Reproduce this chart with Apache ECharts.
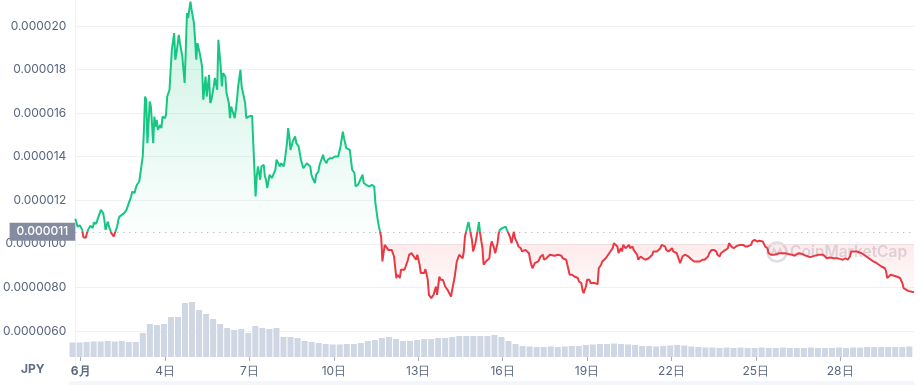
<!DOCTYPE html>
<html><head><meta charset="utf-8">
<script src="https://cdn.jsdelivr.net/npm/echarts@6/dist/echarts.min.js"></script>
<style>html,body{margin:0;padding:0;background:#fff}#c{width:921px;height:385px}</style>
</head><body><div id="c"></div>
<script>
// Price in µJPY (1e-6 JPY); time in hours since 2023-05-31 14:00
const priceHours = [
0,2,3,4,6,7,8,9,10,11,13,15,16,18,19,20,22,24,25,26,28,29,31,33,34,36,37,38,40,42,44,45,46,48,49,51,52,53,55,56,
58,59,60,61,62,63,64,65,67,68,69,70,71,73,74,75,77,78,79,81,82,83,85,86,87,89,90,92,93,94,95,96,97,99,100,102,103,104,105,107,
108,109,110,112,113,115,116,117,119,120,122,123,125,126,127,129,130,132,133,134,135,137,138,139,140,142,143,144,146,147,149,152,153,154,155,156,157,159,160,162,
163,164,165,166,167,169,170,172,173,174,176,177,179,180,182,183,184,185,187,188,189,190,192,193,194,196,197,199,200,202,203,204,206,207,209,210,211,213,214,216,
217,219,220,221,223,224,226,227,228,230,231,233,234,236,237,238,240,241,243,244,245,247,248,250,251,253,254,255,257,258,260,261,262,263,264,266,267,269,270,272,
273,274,276,277,279,280,281,283,284,286,287,289,290,291,293,294,296,297,298,300,301,303,304,306,307,308,310,311,313,314,316,317,318,320,321,323,324,326,327,328,
330,331,333,334,335,337,338,339,341,342,344,345,346,347,348,350,351,353,354,356,357,358,360,361,363,364,365,367,368,370,371,373,374,375,377,378,380,381,383,384,
385,387,388,390,391,392,393,395,396,398,399,400,402,403,405,406,408,409,412,415,416,418,419,422,423,425,426,427,429,430,432,433,435,436,437,439,440,442,443,444,
446,447,449,450,452,453,454,456,457,459,460,462,463,464,466,467,469,470,471,473,474,476,477,479,480,481,483,484,486,487,488,490,491,493,494,496,497,498,500,501,
503,504,505,507,508,510,511,513,514,515,517,518,520,521,522,524,525,527,528,530,531,532,534,535,537,538,539,541,542,544,545,547,548,549,551,552,554,555,557,558,
559,561,562,564,565,566,568,569,571,572,574,575,576,578,579,581,582,584,585,586,588,589,591,592,593,595,596,598,599,601,602,603,605,606,608,610,613,616,618,619,
622,625,628,630,632,633,636,639,640,643,646,649,652,655,657,660,662,664,666,667,669,670,672,673,676,677,680,681,684,686,689,690,693,696,697,698,699,701,703,706,
709,711,712,713,716,719,721
];
const priceValues = [
11.15,10.79,10.72,10.84,10.64,10.30,10.27,10.28,10.49,10.64,10.83,10.72,10.98,10.92,11.10,11.02,11.56,11.41,11.10,10.64,11.02,10.79,10.49,10.34,10.41,10.79,11.10,11.25,11.33,11.41,11.56,11.64,11.87,12.17,12.40,12.33,12.56,12.71,12.86,12.94,
14.01,15.23,16.76,16.61,14.62,15.54,16.53,16.30,14.62,15.84,15.38,15.69,15.23,15.46,15.31,15.84,15.77,15.92,16.76,17.07,17.99,18.90,19.67,18.45,18.75,19.59,19.21,18.60,17.99,17.38,18.90,20.59,20.36,21.12,20.74,20.13,19.36,18.45,19.21,18.75,
18.45,18.14,16.61,17.68,16.76,17.76,16.46,16.61,17.22,17.61,17.07,19.36,18.14,17.22,17.84,17.68,16.92,16.46,15.77,16.30,16.38,15.77,16.15,16.61,17.22,17.99,17.22,17.15,16.46,15.77,15.84,15.88,15.84,13.40,12.17,13.09,13.55,12.94,13.55,13.63,
13.09,12.94,12.56,12.86,13.17,13.02,13.09,13.40,13.86,13.93,13.55,13.70,13.55,13.78,14.62,15.31,14.93,14.31,14.70,14.77,14.93,14.62,14.47,14.54,13.86,13.47,13.55,13.70,13.78,13.55,13.17,13.02,12.79,13.17,13.32,13.63,13.78,14.09,13.86,13.70,
13.86,13.93,13.86,13.93,14.01,13.93,14.01,14.09,14.47,15.15,14.85,14.39,14.47,14.31,13.86,13.40,13.25,12.63,12.71,12.71,12.94,13.17,12.79,12.71,12.79,12.63,12.63,12.71,12.63,11.87,11.10,10.79,10.56,10.30,9.19,9.95,10.03,9.72,9.80,9.72,
9.80,9.42,8.43,8.58,8.43,8.81,8.88,8.81,8.96,9.27,9.50,9.57,9.50,9.42,9.27,9.50,9.04,8.66,8.73,8.66,8.84,8.35,7.66,7.51,7.58,7.66,8.04,7.66,8.50,8.35,8.35,8.27,8.04,7.89,7.81,7.58,7.89,8.43,8.81,9.19,
9.50,9.42,9.34,9.65,10.34,10.79,11.00,10.72,10.18,9.65,10.03,10.34,10.64,11.00,10.49,9.80,9.04,9.19,9.11,9.34,9.88,10.11,9.80,9.57,10.03,10.49,10.64,10.72,10.72,10.79,10.64,10.41,10.26,10.03,10.56,10.26,10.03,9.88,9.80,9.65,
9.72,9.72,9.65,9.57,9.27,9.04,8.88,9.11,9.04,9.19,9.27,9.42,9.50,9.27,9.34,9.42,9.50,9.42,9.45,9.50,9.42,9.45,9.34,9.27,9.27,8.58,8.50,8.58,8.50,8.45,8.43,8.27,8.20,7.89,7.74,8.04,8.35,8.35,8.20,8.27,
8.20,8.15,8.15,8.88,9.04,9.19,9.27,9.34,9.34,9.57,9.50,9.80,10.03,10.11,9.88,9.57,9.80,9.65,9.95,9.80,9.88,9.95,9.80,9.88,9.72,9.65,9.50,9.27,9.42,9.50,9.34,9.27,9.19,9.34,9.42,9.50,9.65,9.72,9.65,9.72,
9.80,9.95,10.03,9.88,9.72,9.65,9.72,9.80,9.65,9.65,9.57,9.42,9.11,9.27,9.42,9.50,9.42,9.42,9.34,9.27,9.27,9.19,9.19,9.16,9.19,9.22,9.27,9.27,9.34,9.42,9.57,9.72,9.80,9.72,9.65,9.50,9.42,9.57,9.65,9.72,
9.72,9.80,10.03,9.88,9.88,9.80,9.88,9.88,9.95,9.95,9.95,9.88,9.88,9.88,9.83,9.95,10.11,10.18,10.18,10.11,10.14,10.11,10.11,10.03,9.88,9.80,9.57,9.50,9.53,9.50,9.57,9.53,9.57,9.62,9.57,9.57,9.53,9.50,9.46,9.50,
9.57,9.53,9.46,9.42,9.39,9.42,9.46,9.50,9.42,9.50,9.34,9.37,9.34,9.34,9.31,9.27,9.34,9.27,9.42,9.65,9.65,9.57,9.65,9.57,9.57,9.50,9.42,9.34,9.27,9.19,9.11,9.04,8.96,8.88,8.73,8.43,8.50,8.58,8.55,8.50,
8.43,8.20,7.97,7.89,7.84,7.80,7.78
];
// Volume (arbitrary units), one bar per 6-hour bin starting at hour 0
const volumeBinHours = 6;
const volumeValues = [
145,145,150,155,155,160,155,160,150,150,
240,330,320,330,400,400,540,550,470,430,
380,330,290,270,280,240,310,290,280,290,
200,200,190,160,150,140,130,125,125,130,
130,140,160,170,190,200,180,160,160,170,
180,180,190,190,200,210,210,210,210,210,
220,200,160,130,110,105,100,100,105,100,
105,110,110,120,125,130,130,135,130,125,
120,110,110,105,110,115,120,115,105,100,
95,95,90,95,90,95,90,90,95,90,
90,95,90,90,90,95,90,90,90,95,
90,95,95,100,100,100,100,100,100,105
];
const baseValue = 10.55;           // reference price (dotted line)
const redAreaTop = 10.0;           // upper edge of the red fill
const dayTickHours = [10,82,154,226,298,370,442,514,586,658];
const dayTickLabels = ['6月','4日','7日','10日','13日','16日','19日','22日','25日','28日'];
const currencyLabel = 'JPY';

const GREEN = '#16c784', RED = '#ea3943';
const FONT = 'Inter, sans-serif';
const volumeHours = volumeValues.map((_, i) => i * volumeBinHours + volumeBinHours / 2);
const priceData = priceHours.map((h, i) => [h, priceValues[i]]);

const yFmt = v => {
  if (v <= 4 || v >= 21) return '';
  const x = v * 1e-6;
  return v > 10.001 ? x.toFixed(6) : x.toFixed(7);
};

const chart = echarts.init(document.getElementById('c'));
const option = {
  animation: false,
  backgroundColor: '#fff',
  grid: [
    {left: 69, right: 7, top: 0, bottom: 10.43},
    {left: 69, right: 7, top: 297, bottom: 28}
  ],
  xAxis: [
    {type: 'value', gridIndex: 0, min: 0, max: 721, show: false},
    {type: 'value', gridIndex: 1, min: 0, max: 721,
      axisLine: {show: false}, splitLine: {show: false},
      axisTick: {show: true, customValues: dayTickHours, length: 4, lineStyle: {color: '#a6b0c3'}},
      axisLabel: {show: true, customValues: dayTickHours, margin: 8, color: '#58667e', fontSize: 12, fontFamily: FONT,
        formatter: v => { const i = dayTickHours.indexOf(v); return i === 0 ? '{m|' + dayTickLabels[i] + '}' : dayTickLabels[i]; },
        rich: {m: {fontWeight: 'bold', color: '#58667e', fontSize: 12, fontFamily: FONT}}}
    }
  ],
  yAxis: [
    {type: 'value', gridIndex: 0, min: 4, max: 21.19, interval: 2,
      axisLine: {show: true, lineStyle: {color: '#eff2f5'}}, axisTick: {show: false},
      axisLabel: {formatter: yFmt, color: '#58667e', fontSize: 12, fontFamily: FONT, margin: 9},
      splitLine: {show: true, lineStyle: {color: ['transparent','#eff2f5','#eff2f5','#eff2f5','#eff2f5','#eff2f5','#eff2f5','#eff2f5','#eff2f5','transparent'], width: 1}}
    },
    {type: 'value', gridIndex: 1, min: 0, max: 600, show: false}
  ],
  series: [
    {type: 'bar', xAxisIndex: 1, yAxisIndex: 1, barWidth: 6,
      itemStyle: {color: '#cfd6e4'}, silent: true,
      data: volumeHours.map((h, i) => [h, volumeValues[i]])},
    {type: 'line', xAxisIndex: 0, yAxisIndex: 0, showSymbol: false, symbol: 'none', z: 4, silent: true,
      lineStyle: {width: 0, opacity: 0},
      areaStyle: {origin: redAreaTop, color: 'rgba(234,57,67,0.1)'},
      data: priceData},
    {type: 'line', xAxisIndex: 0, yAxisIndex: 0, showSymbol: false, symbol: 'none', z: 5,
      lineStyle: {width: 2, color: GREEN},
      areaStyle: {origin: baseValue, color: 'rgba(22,199,132,0.2)'},
      data: priceData,
      markLine: {symbol: 'none', silent: true,
        lineStyle: {color: '#a1a7bb', type: [1, 5], width: 1},
        label: {position: 'start', distance: 0, formatter: () => (baseValue * 1e-6).toFixed(6),
          backgroundColor: '#858ca2', color: '#fff', padding: [3, 7, 3, 7], fontSize: 12, fontFamily: FONT, fontWeight: 500},
        data: [{yAxis: baseValue}]}
    }
  ],
  graphic: [
    {type: 'text', left: 21, top: 363, style: {text: currencyLabel, fill: '#616e85', font: 'bold 12px Inter, sans-serif'}},
    {type: 'rect', shape: {x: 69, y: 381, width: 845, height: 4}, style: {fill: '#f3f6fb'}, silent: true},
    {type: 'group', left: 765, top: 240, silent: true, children: [
      {type: 'circle', shape: {cx: 10, cy: 11, r: 9.5}, style: {fill: 'none', stroke: 'rgba(128,138,157,0.28)', lineWidth: 2.5}},
      {type: 'polyline', shape: {points: [[4,15],[7,8],[10,14],[13,8],[16,14]]}, style: {fill: 'none', stroke: 'rgba(128,138,157,0.28)', lineWidth: 2}},
      {type: 'text', x: 23, y: 3, style: {text: 'CoinMarketCap', fill: 'rgba(128,138,157,0.28)', font: '600 15.5px Inter, sans-serif'}}
    ]}
  ]
};
chart.setOption(option);

// colour line/area by position relative to the reference price
const px = v => chart.convertToPixel({yAxisIndex: 0}, v);
const yTop = px(Math.max(...priceValues));
const yBase = px(baseValue);
const yLow = px(Math.min(...priceValues));
const yRed = px(redAreaTop);
const f = (yBase - yTop) / (yLow - yTop);
const g = (yRed - yTop) / (yLow - yTop);
const lineGrad = new echarts.graphic.LinearGradient(0, yTop, 0, yLow, [
  {offset: 0, color: GREEN}, {offset: f, color: GREEN}, {offset: f, color: RED}, {offset: 1, color: RED}], true);
const greenGrad = new echarts.graphic.LinearGradient(0, yTop, 0, yLow, [
  {offset: 0, color: 'rgba(22,199,132,0.32)'}, {offset: f, color: 'rgba(22,199,132,0.02)'},
  {offset: f, color: 'rgba(22,199,132,0)'}, {offset: 1, color: 'rgba(22,199,132,0)'}], true);
const redGrad = new echarts.graphic.LinearGradient(0, yTop, 0, yLow, [
  {offset: 0, color: 'rgba(234,57,67,0)'}, {offset: g, color: 'rgba(234,57,67,0)'},
  {offset: g, color: 'rgba(234,57,67,0.15)'}, {offset: 1, color: 'rgba(234,57,67,0.02)'}], true);
chart.setOption({series: [{}, {areaStyle: {color: redGrad}}, {lineStyle: {color: lineGrad}, areaStyle: {color: greenGrad}}]});
</script>
</body></html>
